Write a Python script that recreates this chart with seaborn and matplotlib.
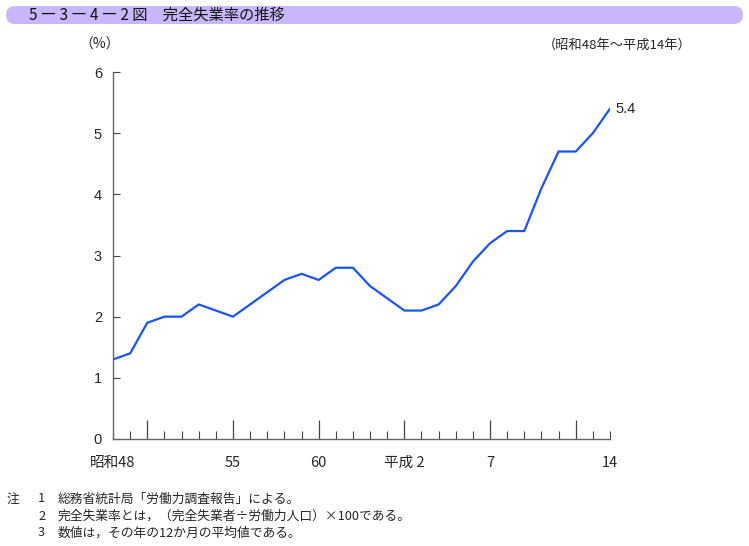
import matplotlib
matplotlib.use("Agg")
import matplotlib.pyplot as plt
import seaborn as sns
import pandas as pd
from matplotlib.patches import FancyBboxPatch
from matplotlib.ticker import FixedLocator

years = list(range(1973, 2003))
rates = [1.3, 1.4, 1.9, 2.0, 2.0, 2.2, 2.1, 2.0, 2.2, 2.4,
         2.6, 2.7, 2.6, 2.8, 2.8, 2.5, 2.3, 2.1, 2.1, 2.2,
         2.5, 2.9, 3.2, 3.4, 3.4, 4.1, 4.7, 4.7, 5.0, 5.4]
label_years = [1973, 1980, 1985, 1990, 1995, 2002]
label_texts = ["昭和48", "55", "60", "平成 2", "7", "14"]
major_years = [1975, 1980, 1985, 1990, 1995, 2000]
y_ticks = [0, 1, 2, 3, 4, 5, 6]

df = pd.DataFrame({"year": years, "rate": rates})

sns.set_theme(style="white")
plt.rcParams['font.family'] = ['Noto Sans CJK JP', 'DejaVu Sans']

fig = plt.figure(figsize=(7.49, 5.46), dpi=100)
ax = fig.add_axes([113/749, 1-439/546, 497/749, 367/546])

sns.lineplot(data=df, x="year", y="rate", ax=ax, color="#1a55f0", linewidth=1.6)

ax.set_xlim(1973, 2002)
ax.set_ylim(0, 6)
for s in ["top", "right"]:
    ax.spines[s].set_visible(False)
for s in ["left", "bottom"]:
    ax.spines[s].set_color("#666666")
    ax.spines[s].set_linewidth(1.0)

ax.set_yticks(y_ticks)
ax.set_yticklabels([str(v) for v in y_ticks], fontsize=10.5, family=['Liberation Sans', 'DejaVu Sans'])
ax.tick_params(axis="y", direction="in", length=5, width=0.8, color="#444444", pad=8, left=True)

ax.xaxis.set_major_locator(FixedLocator(major_years))
ax.xaxis.set_minor_locator(FixedLocator(years))
ax.set_xticklabels([""] * len(major_years))
ax.tick_params(axis="x", which="major", direction="in", length=14, width=0.9, color="#444444", bottom=True)
ax.tick_params(axis="x", which="minor", direction="in", length=6, width=0.8, color="#444444", bottom=True)
for yr, txt in zip(label_years, label_texts):
    ax.text(yr, -0.27, txt, ha="center", va="top", fontsize=10.5,
            transform=ax.transData, clip_on=False)
ax.set_xlabel("")
ax.set_ylabel("")

ax.annotate(f"{rates[-1]}", xy=(years[-1], rates[-1]), xytext=(4, 0),
            textcoords="offset points", ha="left", va="center",
            fontsize=10.5, family=['Liberation Sans', 'DejaVu Sans'])

# Title banner
banner = FancyBboxPatch((6/749, 1-24/546), 737/749, 18/546,
                        boxstyle="round,pad=0,rounding_size=0.012",
                        transform=fig.transFigure, facecolor="#c9b6fb",
                        edgecolor="none", mutation_aspect=749/546)
fig.patches.append(banner)
fig.text(29/749, 1-15/546, "5 ― 3 ― 4 ― 2 図　完全失業率の推移", ha="left", va="center",
         fontsize=11, color="#111111")

fig.text(100/749, 1-45/546, "（%）", ha="center", va="center", fontsize=10)
fig.text(692/749, 1-45/546, "（昭和48年～平成14年）", ha="right", va="center", fontsize=9.5)

note_marks = ["注", "", ""]
note_nums = ["1", "2", "3"]
note_texts = ["総務省統計局「労働力調査報告」による。",
              "完全失業率とは，（完全失業者÷労働力人口）×100である。",
              "数値は，その年の12か月の平均値である。"]
for i, (m, k, t) in enumerate(zip(note_marks, note_nums, note_texts)):
    y = 1-(499 + 17*i)/546
    fig.text(7/749, y, m, ha="left", va="center", fontsize=9.2)
    fig.text(38/749, y, k, ha="left", va="center", fontsize=9.2)
    fig.text(58/749, y, t, ha="left", va="center", fontsize=9.2)

fig.savefig("out.png", dpi=100)
